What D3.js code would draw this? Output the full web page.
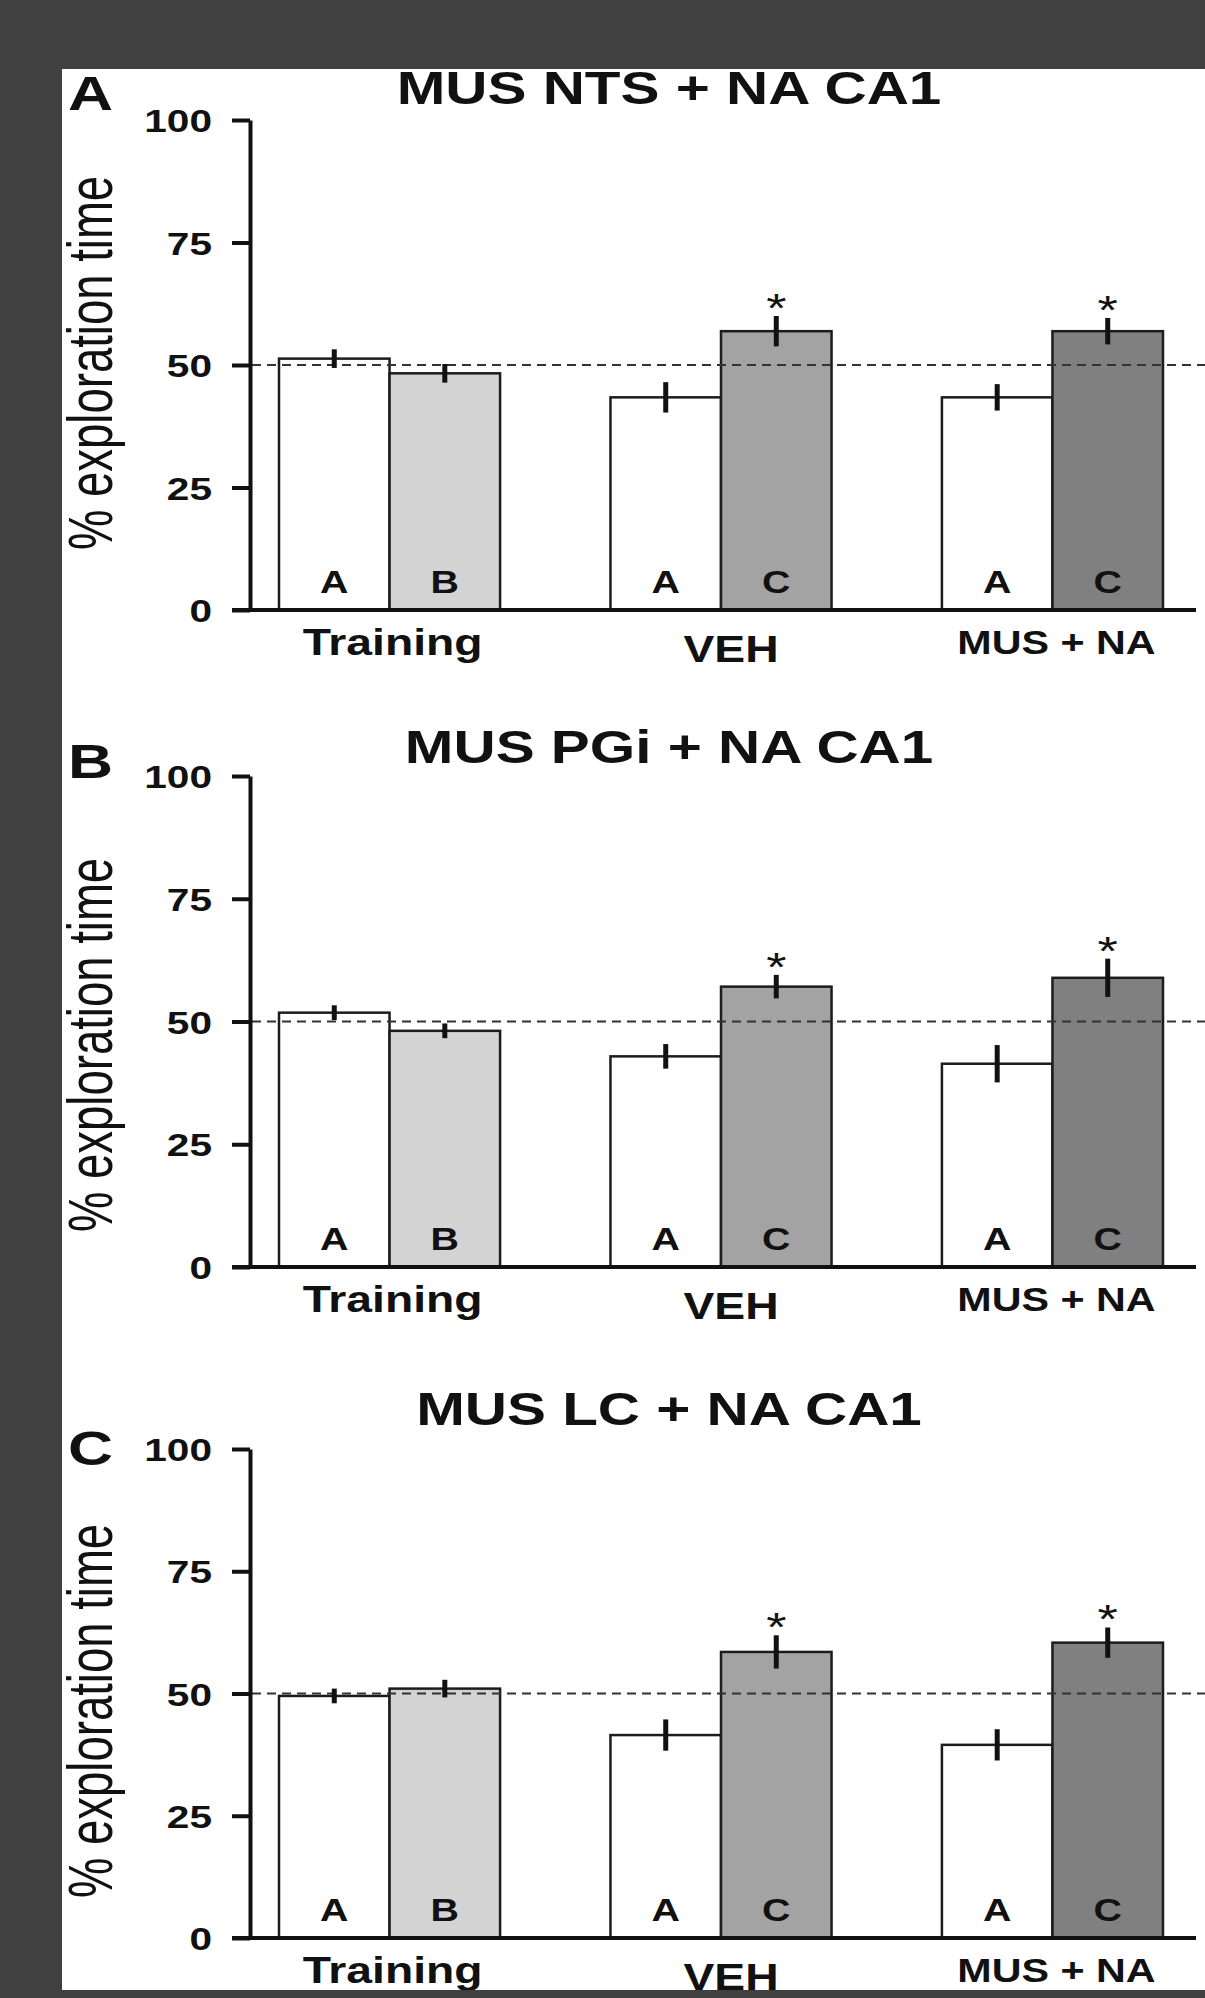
<!DOCTYPE html>
<html>
<head>
<meta charset="utf-8">
<script src="https://cdn.jsdelivr.net/npm/d3@7"></script>
<style>
html, body { margin: 0; padding: 0; background: #404040; }
svg { display: block; }
text { font-family: "Liberation Sans", Arial, sans-serif; fill: #111; }
</style>
</head>
<body>
<script>
// data
var groups = ["Training", "VEH", "MUS + NA"];
var panelLetters = ["A", "B", "C"];
var panelTitles = ["MUS NTS + NA CA1", "MUS PGi + NA CA1", "MUS LC + NA CA1"];
var barLetters = [["A", "B"], ["A", "C"], ["A", "C"]];
var yTicks = [0, 25, 50, 75, 100];
var chance = 50;
var yLabel = "% exploration time";

var meanNTS = [[51.3, 48.3], [43.4, 56.9], [43.4, 56.9]];
var semNTS  = [[1.9, 1.9], [3.1, 3.1], [2.7, 2.7]];
var meanPGi = [[51.8, 48.1], [42.9, 57.1], [41.4, 58.9]];
var semPGi  = [[1.5, 1.5], [2.5, 2.4], [3.8, 3.9]];
var meanLC  = [[49.5, 51.0], [41.5, 58.5], [39.5, 60.4]];
var semLC   = [[1.5, 1.8], [3.2, 3.4], [3.2, 3.1]];
var stars   = [[false, false], [false, true], [false, true]];

var means = [meanNTS, meanPGi, meanLC];
var sems = [semNTS, semPGi, semLC];

// layout (the source image is stretched sideways, so text is too)
var W = 1205, H = 1998;
var SX = 1.27;
var layout = [
  {y0: 610,  y100: 120,  titleY: 104,  letterY: 110,  labelY: 363},
  {y0: 1267, y100: 776,  titleY: 763,  letterY: 778,  labelY: 1045},
  {y0: 1938, y100: 1449, titleY: 1425, letterY: 1465, labelY: 1711}
];
var fills = [["#ffffff", "#d3d3d3"], ["#ffffff", "#a3a3a3"], ["#ffffff", "#808080"]];
var catDx = [3, 10, 4], catDy = [45, 52, 44], catSize = [37, 37, 33];

var svg = d3.select("body").append("svg")
  .attr("width", W)
  .attr("height", H);

svg.append("rect").attr("width", W).attr("height", H).attr("fill", "#404040");
svg.append("clipPath").attr("id", "pane")
  .append("rect").attr("x", 62).attr("y", 69).attr("width", W - 62).attr("height", 1990 - 69);
svg.append("rect").attr("x", 62).attr("y", 69).attr("width", W - 62).attr("height", 1990 - 69).attr("fill", "#fff");

var root = svg.append("g").attr("clip-path", "url(#pane)");

var x = d3.scaleBand()
  .domain(groups)
  .range([250, 1192])
  .paddingInner(0.333)
  .paddingOuter(0.0875);
var sub = d3.scaleBand()
  .domain([0, 1])
  .range([0, x.bandwidth()]);

function stretchedText(g, str, cx, by, size, weight, anchor, sx) {
  return g.append("text")
    .attr("transform", "translate(" + cx + "," + by + ") scale(" + (sx || SX) + ",1)")
    .attr("text-anchor", anchor || "middle")
    .attr("font-size", size)
    .attr("font-weight", weight || "bold")
    .text(str);
}

panelLetters.forEach(function(letter, p) {
  var L = layout[p];
  var g = root.append("g");
  var y = d3.scaleLinear().domain([0, 100]).range([L.y0, L.y100]);

  // bars
  var rows = [];
  groups.forEach(function(grp, gi) {
    [0, 1].forEach(function(k) {
      rows.push({grp: grp, gi: gi, k: k, m: means[p][gi][k], s: sems[p][gi][k],
                 lab: barLetters[gi][k], star: stars[gi][k], fill: fills[gi][k]});
    });
  });
  g.selectAll("rect.bar").data(rows).enter().append("rect")
    .attr("class", "bar")
    .attr("x", function(d) { return x(d.grp) + sub(d.k); })
    .attr("width", sub.bandwidth())
    .attr("y", function(d) { return y(d.m); })
    .attr("height", function(d) { return y(0) - y(d.m); })
    .attr("fill", function(d) { return d.fill; })
    .attr("stroke", "#1c1c1c")
    .attr("stroke-width", 2.5);

  // chance line
  g.append("line")
    .attr("x1", 252).attr("x2", W)
    .attr("y1", y(chance)).attr("y2", y(chance))
    .attr("stroke", "#333").attr("stroke-width", 2)
    .attr("stroke-dasharray", "9,6");

  // error bars
  g.selectAll("line.err").data(rows).enter().append("line")
    .attr("class", "err")
    .attr("x1", function(d) { return x(d.grp) + sub(d.k) + sub.bandwidth() / 2; })
    .attr("x2", function(d) { return x(d.grp) + sub(d.k) + sub.bandwidth() / 2; })
    .attr("y1", function(d) { return y(d.m + d.s); })
    .attr("y2", function(d) { return y(d.m - d.s); })
    .attr("stroke", "#111")
    .attr("stroke-width", 5);

  rows.forEach(function(d) {
    var cx = x(d.grp) + sub(d.k) + sub.bandwidth() / 2;
    stretchedText(g, d.lab, cx, y(0) - 17, 31, "bold");
    if (d.star) stretchedText(g, "*", cx, y(d.m + d.s) + 6, 41, "normal");
  });

  // y axis
  var ax = g.append("g")
    .attr("transform", "translate(250,0)")
    .call(d3.axisLeft(y).tickValues(yTicks).tickSize(18).tickSizeOuter(0));
  ax.select(".domain").attr("stroke", "#111").attr("stroke-width", 4);
  ax.selectAll(".tick line").attr("stroke", "#111").attr("stroke-width", 4);
  ax.selectAll(".tick text")
    .attr("x", null).attr("dy", null)
    .attr("transform", "translate(-38,11.5) scale(" + SX + ",1)")
    .attr("font-size", 32)
    .attr("font-weight", "bold")
    .attr("font-family", null)
    .attr("fill", "#111");

  // x axis line
  g.append("line")
    .attr("x1", 232).attr("x2", 1196)
    .attr("y1", y(0)).attr("y2", y(0))
    .attr("stroke", "#111").attr("stroke-width", 4);

  groups.forEach(function(grp, gi) {
    stretchedText(g, grp, x(grp) + x.bandwidth() / 2 + catDx[gi], y(0) + catDy[gi], catSize[gi], "bold", "middle", 1.25);
  });

  // titles, letters, y label
  stretchedText(g, panelTitles[p], 669, L.titleY, 46, "bold");
  stretchedText(g, letter, 68, L.letterY, 48, "bold", "start", 1.3);
  g.append("text")
    .attr("transform", "translate(112," + L.labelY + ") scale(1.4,1) rotate(-90)")
    .attr("text-anchor", "middle")
    .attr("font-size", 45.5)
    .text(yLabel);
});
</script>
</body>
</html>
